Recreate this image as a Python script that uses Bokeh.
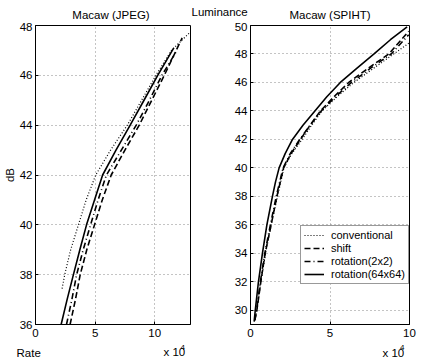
from bokeh.plotting import figure
from bokeh.layouts import row, column
from bokeh.models import Range1d, Label, Legend, LegendItem, FixedTicker
from bokeh.embed import file_html
from bokeh.resources import INLINE

FONT = "Liberation Sans"
FS = "11.5px"

# ---------------- data (rate in units of 1e4, PSNR in dB) ----------------
# Macaw (JPEG)
jpeg_conv_rate = [2.23, 2.45, 2.95, 3.6, 4.25, 5.05, 6.3, 7.7, 8.9, 10.1, 11.4, 12.9]
jpeg_conv_db = [37.44, 38, 39, 40, 41, 42, 43, 44, 45, 46, 47, 47.7]
jpeg_shift_rate = [2.9, 3.35, 3.75, 4.3, 4.95, 5.6, 6.35, 7.5, 8.7, 9.75, 10.8, 12.3]
jpeg_shift_db = [36, 37, 38, 39, 40, 41, 42, 43, 44, 45, 46, 47.5]
jpeg_rot2_rate = [2.6, 3.05, 3.45, 4.0, 4.62, 5.25, 5.95, 7.2, 8.45, 9.55, 10.6, 11.8]
jpeg_rot2_db = [36, 37, 38, 39, 40, 41, 42, 43, 44, 45, 46, 46.95]
jpeg_rot64_rate = [2.15, 2.65, 3.18, 3.72, 4.28, 4.95, 5.63, 6.75, 7.94, 9.1, 10.25, 11.6]
jpeg_rot64_db = [36, 37, 38, 39, 40, 41, 42, 43, 44, 45, 46, 47.1]

# Macaw (SPIHT)
spiht_conv_rate = [0.27, 0.4, 0.65, 0.95, 1.3, 1.7, 2.1, 2.6, 3.25, 3.85, 4.5, 5.45, 6.5, 7.75, 9.0, 9.95]
spiht_conv_db = [29.3, 30, 32, 34, 36, 38, 40, 41, 42, 43, 44, 45, 46, 47, 48, 48.75]
spiht_shift_rate = [0.27, 0.4, 0.65, 0.92, 1.3, 1.66, 2.08, 2.55, 3.14, 3.75, 4.4, 5.25, 6.18, 7.4, 8.7, 9.95]
spiht_shift_db = [29.3, 30, 32, 34, 36, 38, 40, 41, 42, 43, 44, 45, 46, 47, 48, 49.6]
spiht_rot2_rate = [0.27, 0.38, 0.62, 0.9, 1.25, 1.62, 2.05, 2.5, 3.1, 3.75, 4.45, 5.35, 6.35, 7.55, 8.85, 9.95]
spiht_rot2_db = [29.3, 30, 32, 34, 36, 38, 40, 41, 42, 43, 44, 45, 46, 47, 48, 49.35]
spiht_rot64_rate = [0.23, 0.3, 0.5, 0.75, 1.03, 1.38, 1.57, 1.8, 2.18, 2.64, 3.3, 4.05, 4.8, 5.65, 6.7, 7.77, 8.8, 9.85]
spiht_rot64_db = [29.2, 30, 32, 34, 36, 38, 39, 40, 41, 42, 43, 44, 45, 46, 47, 48, 49, 49.9]

series_names = ["conventional", "shift", "rotation(2x2)", "rotation(64x64)"]
jpeg_x_ticks = [0, 5, 10]
jpeg_y_ticks = [36, 38, 40, 42, 44, 46, 48]
spiht_x_ticks = [0, 5, 10]
spiht_y_ticks = [30, 32, 34, 36, 38, 40, 42, 44, 46, 48, 50]

styles = [
    dict(line_dash="1 2", line_width=1.2),
    dict(line_dash="6 3", line_width=1.6),
    dict(line_dash="6 3 1 3", line_width=1.6),
    dict(line_dash="solid", line_width=1.6),
]

HEADER_H = 22
PLOT_H = 320
FOOTER_H = 17
W = 425


def make_fig(width, left, right, xr, yr, xticks, yticks):
    p = figure(width=width, height=PLOT_H, output_backend="svg", toolbar_location=None,
               x_range=Range1d(*xr), y_range=Range1d(*yr),
               min_border_left=left, min_border_right=right,
               min_border_top=3, min_border_bottom=18)
    p.background_fill_color = "white"
    p.border_fill_color = "white"
    p.outline_line_color = "black"
    p.outline_line_width = 1
    p.xaxis.ticker = FixedTicker(ticks=xticks)
    p.yaxis.ticker = FixedTicker(ticks=yticks)
    for ax in (p.xaxis[0], p.yaxis[0]):
        ax.axis_line_color = "black"
        ax.major_tick_line_color = "black"
        ax.major_tick_in = 3
        ax.major_tick_out = 0
        ax.minor_tick_line_color = None
        ax.major_label_text_font = FONT
        ax.major_label_text_font_size = FS
        ax.major_label_text_color = "black"
        ax.axis_label_text_font = FONT
        ax.axis_label_text_font_size = FS
        ax.axis_label_text_font_style = "normal"
        ax.axis_label_text_color = "black"
    p.xaxis.major_label_standoff = 4
    p.yaxis.major_label_standoff = 3
    p.grid.grid_line_color = "#888888"
    p.grid.grid_line_dash = "1 3"
    p.grid.grid_line_width = 1
    return p


def text_strip(height):
    # a bare strip (no axes) whose frame is the whole canvas; 1 unit = 1 px
    s = figure(width=W, height=height, output_backend="svg", toolbar_location=None,
               x_range=Range1d(0, W), y_range=Range1d(0, height),
               x_axis_type=None, y_axis_type=None, min_border=0)
    s.outline_line_color = None
    s.grid.visible = False
    s.background_fill_color = "white"
    s.border_fill_color = "white"
    return s


def add_text(p, x, y, text, align="left", size=FS):
    p.add_layout(Label(x=x, y=y, text=text, text_font=FONT, text_font_size=size,
                       text_align=align, text_baseline="alphabetic",
                       text_color="black"))


# ---------------- left: JPEG ----------------
p1 = make_fig(191, 31, 1, (0, 13), (36, 48), jpeg_x_ticks, jpeg_y_ticks)
p1.yaxis.axis_label = "dB"
p1.yaxis.axis_label_standoff = 1
jpeg_data = [(jpeg_conv_rate, jpeg_conv_db), (jpeg_shift_rate, jpeg_shift_db),
             (jpeg_rot2_rate, jpeg_rot2_db), (jpeg_rot64_rate, jpeg_rot64_db)]
for (xs, ys), st in zip(jpeg_data, styles):
    p1.line(xs, ys, line_color="black", **st)

# ---------------- right: SPIHT ----------------
p2 = make_fig(234, 59, 16, (0, 10), (29, 50), spiht_x_ticks, spiht_y_ticks)
spiht_data = [(spiht_conv_rate, spiht_conv_db), (spiht_shift_rate, spiht_shift_db),
              (spiht_rot2_rate, spiht_rot2_db), (spiht_rot64_rate, spiht_rot64_db)]
items = []
for (xs, ys), st, name in zip(spiht_data, styles, series_names):
    r = p2.line(xs, ys, line_color="black", **st)
    items.append(LegendItem(label=name, renderers=[r]))

legend = Legend(items=items, location=(50, 40))
legend.label_text_font = FONT
legend.label_text_font_size = "11px"
legend.label_text_color = "black"
legend.border_line_color = "#333333"
legend.border_line_width = 1
legend.background_fill_color = "white"
legend.background_fill_alpha = 1
legend.padding = 3
legend.spacing = 1
legend.margin = 0
legend.glyph_width = 20
legend.glyph_height = 12
legend.label_height = 12
legend.label_standoff = 7
p2.add_layout(legend)

# ---------------- header / footer text strips ----------------
header = text_strip(HEADER_H)
add_text(header, 110.5, 8.0, "Macaw (JPEG)", align="center")
add_text(header, 191, 10.8, "Luminance")
add_text(header, 329.5, 8.0, "Macaw (SPIHT)", align="center")

footer = text_strip(FOOTER_H)
add_text(footer, 16, 6.5, "Rate")
add_text(footer, 163, 7.5, "x 10")
add_text(footer, 180, 12.0, "4", size="8px")
add_text(footer, 382, 6.5, "x 10")
add_text(footer, 399.5, 12.5, "4", size="8px")

layout = column(header, row(p1, p2), footer)
open("out.html", "w").write(file_html(layout, INLINE))
